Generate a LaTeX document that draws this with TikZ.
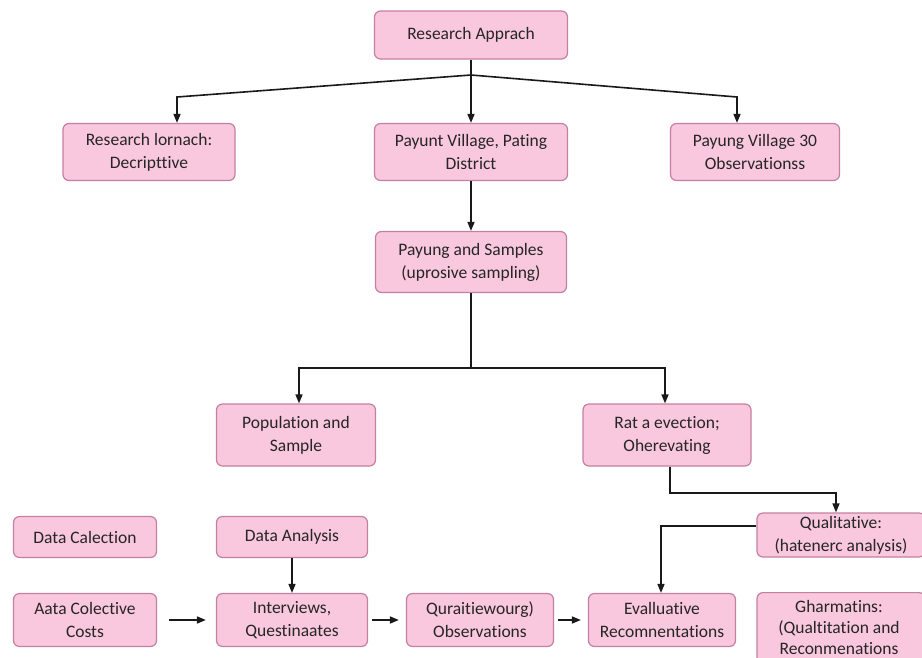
\documentclass[tikz,border=0pt]{standalone}
\usepackage{fontspec}
\setmainfont{Carlito}[Ligatures={NoCommon}]
\usetikzlibrary{arrows.meta}
\definecolor{boxfill}{RGB}{249,199,222}
\definecolor{boxline}{RGB}{196,128,160}
\tikzset{
  pbox/.style={draw=boxline, fill=boxfill, line width=1.2pt, rounded corners=6pt,
    align=center, inner sep=1pt, font=\fontsize{17.5}{23}\selectfont, text=black!85},
  conn/.style={line width=1.6pt, draw=black!90, -{Triangle[length=9pt,width=7pt]}},
  plain/.style={line width=1.6pt, draw=black!90}
}
\begin{document}
\begin{tikzpicture}[x=1pt,y=-1pt]
\fill[white] (0,0) rectangle (922,657);
\clip (0,0) rectangle (922,657);
\useasboundingbox (0,0) rectangle (922,657);
% row 1
\node[pbox, minimum width=193pt, minimum height=48pt] (top) at (471,35) {Research Apprach};
% row 2
\node[pbox, minimum width=172pt, minimum height=57pt] (r2a) at (149,152) {Research lornach:\\Decripttive};
\node[pbox, minimum width=193pt, minimum height=57pt] (r2b) at (471,152) {Payunt Village, Pating\\District};
\node[pbox, minimum width=169pt, minimum height=57pt] (r2c) at (755,152) {Payung Village 30\\Observationss};
% row 3
\node[pbox, minimum width=191pt, minimum height=61pt] (samp) at (471,262) {Payung and Samples\\(uprosive sampling)};
% row 4
\node[pbox, minimum width=159pt, minimum height=62pt] (pop) at (296,435) {Population and\\Sample};
\node[pbox, minimum width=168pt, minimum height=62pt] (rat) at (667,435) {Rat a evection;\\Oherevating};
% row 5
\node[pbox, minimum width=143pt, minimum height=41pt] (dcal) at (85,537) {Data Calection};
\node[pbox, minimum width=151pt, minimum height=41pt] (dana) at (292,537) {Data Analysis};
\node[pbox, minimum width=168pt, minimum height=44pt] (qual) at (841,535) {Qualitative:\\(hatenerc analysis)};
% row 6
\node[pbox, minimum width=143pt, minimum height=53pt] (aata) at (85,620) {Aata Colective\\Costs};
\node[pbox, minimum width=151pt, minimum height=53pt] (intv) at (292,620) {Interviews,\\Questinaates};
\node[pbox, minimum width=147pt, minimum height=53pt] (qurt) at (480,620) {Quraitiewourg)\\Observations};
\node[pbox, minimum width=147pt, minimum height=53pt] (eval) at (662,620) {Evalluative\\Recomnentations};
\node[pbox, minimum width=168pt, minimum height=80pt, anchor=north] (ghar) at (841,592) {};
\node[align=center, font=\fontsize{17.5}{21}\selectfont, text=black!85, anchor=north, inner sep=0pt] (ghart) at (839,600) {Gharmatins:\\(Qualtitation and\\Reconmenations};
% connectors
\coordinate (j1) at (471,75);
\coordinate (l1) at (177,97);
\coordinate (rr1) at (737,97);
\draw[plain] (top.south) -- (j1);
\draw[conn] (j1) -- (l1) -- (l1 |- r2a.north);
\draw[conn] (j1) -- (rr1) -- (rr1 |- r2c.north);
\draw[conn] (j1) -- (r2b.north);
\draw[conn] (r2b.south) -- (samp.north);
\coordinate (j2) at (471,368);
\coordinate (l2) at (299,368);
\coordinate (rr2) at (665,368);
\draw[plain] (samp.south) -- (j2);
\draw[conn] (j2) -- (l2) -- (l2 |- pop.north);
\draw[conn] (j2) -- (rr2) -- (rr2 |- rat.north);
\coordinate (k1) at (670,493);
\coordinate (k2) at (836,493);
\draw[conn] (rat.south -| k1) -- (k1) -- (k2) -- (k2 |- qual.north);
\coordinate (m1) at (661,526);
\draw[conn] (qual.west |- m1) -- (m1) -- (m1 |- eval.north);
\draw[conn] (dana.south) -- (intv.north);
\draw[conn] ([xshift=12pt]aata.east) -- ([xshift=-10pt]intv.west);
\draw[conn] ([xshift=4pt]intv.east) -- ([xshift=-7pt]qurt.west);
\draw[conn] ([xshift=4pt]qurt.east) -- ([xshift=-7pt]eval.west);
\end{tikzpicture}
\end{document}
